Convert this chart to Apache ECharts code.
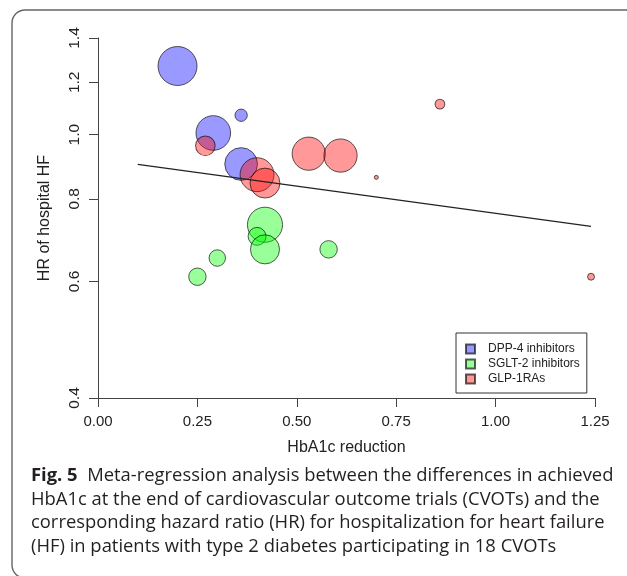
<!DOCTYPE html>
<html>
<head>
<meta charset="utf-8">
<script src="https://cdn.jsdelivr.net/npm/echarts@6/dist/echarts.min.js"></script>
<style>
  html, body { margin: 0; padding: 0; background: #fff; }
  #chart { width: 627px; height: 576px; }
</style>
</head>
<body>
<div id="chart"></div>
<script>
// drug classes
const categories = ["DPP-4 inhibitors", "SGLT-2 inhibitors", "GLP-1RAs"];

// HbA1c reduction, hazard ratio, study weight
const dppX = [0.20, 0.36, 0.29, 0.36];
const dppHR = [1.27, 1.07, 1.006, 0.903];
const dppW = [95, 9.5, 75, 67];

const sgltX = [0.42, 0.40, 0.42, 0.30, 0.25, 0.58];
const sgltHR = [0.731, 0.702, 0.671, 0.651, 0.610, 0.671];
const sgltW = [77, 20, 53, 17, 19, 19];

const glpX = [0.27, 0.40, 0.42, 0.53, 0.61, 0.70, 0.86, 1.24];
const glpHR = [0.962, 0.870, 0.845, 0.936, 0.930, 0.862, 1.112, 0.610];
const glpW = [24, 72, 56, 69, 69, 1, 6, 3];

// meta-regression line end points
const regX = [0.10, 1.24];
const regHR = [0.902, 0.727];

const xTicks = [0, 0.25, 0.5, 0.75, 1.0, 1.25];
const yTicks = [0.4, 0.6, 0.8, 1.0, 1.2, 1.4];

const caption = [
  "HbA1c at the end of cardiovascular outcome trials (CVOTs) and the",
  "corresponding hazard ratio (HR) for hospitalization for heart failure",
  "(HF) in patients with type 2 diabetes participating in 18 CVOTs",
];

const toPoints = (xs, ys, ws) => xs.map((x, i) => [x, ys[i], ws[i]]);

const chart = echarts.init(document.getElementById("chart"));

const axisColor = "#444";
const capFont = "18.4px 'Open Sans'";
const bubble = (name, data, color) => ({
  name: name,
  type: "scatter",
  data: data,
  symbolSize: (v) => 4 * Math.sqrt(v[2]),
  itemStyle: {
    color: color,
    borderColor: "rgba(0,0,0,0.8)",
    borderWidth: 1,
  },
  emphasis: { disabled: true },
});

const option = {
  animation: false,
  textStyle: { fontFamily: "Liberation Sans" },
  grid: { left: 98, right: 32, top: 38, bottom: 178 },
  xAxis: {
    type: "value",
    min: 0,
    max: 1.25,
    interval: 0.25,
    name: "HbA1c reduction",
    nameLocation: "middle",
    nameGap: 42,
    nameTextStyle: { fontSize: 16, color: "#222" },
    axisLine: { onZero: false, lineStyle: { color: axisColor } },
    axisTick: { length: 9, lineStyle: { color: axisColor } },
    axisLabel: {
      fontSize: 15,
      color: "#222",
      margin: 16,
      formatter: (v) => v.toFixed(2),
    },
    splitLine: { show: false },
  },
  yAxis: {
    type: "log",
    min: 0.4,
    max: 1.4,
    name: "HR of hospital HF",
    nameLocation: "middle",
    nameRotate: 90,
    nameGap: 45,
    nameTextStyle: { fontSize: 16, color: "#222" },
    axisLine: { show: true, lineStyle: { color: axisColor } },
    axisTick: {
      show: true,
      length: 9,
      customValues: yTicks,
      lineStyle: { color: axisColor },
    },
    axisLabel: {
      rotate: 90,
      fontSize: 15.5,
      color: "#222",
      margin: 15,
      customValues: yTicks,
      formatter: (v) => Number(v).toFixed(1),
    },
    splitLine: { show: false },
  },
  legend: {
    data: categories,
    orient: "vertical",
    left: 456,
    top: 333,
    padding: [10, 7, 8, 9],
    itemWidth: 9,
    itemHeight: 9,
    itemGap: 3,
    icon: "rect",
    borderColor: "#333",
    borderWidth: 1,
    textStyle: {
      fontSize: 12,
      lineHeight: 12,
      color: "#222",
      padding: [0, 0, 0, 8],
    },
  },
  graphic: [
    {
      type: "rect",
      shape: { x: 12, y: 10, width: 660, height: 568, r: 13 },
      style: { fill: "none", stroke: "#666", lineWidth: 1.4 },
      silent: true,
    },
    {
      type: "text",
      x: 31,
      y: 476,
      style: {
        text: "{b|Fig. 5}  Meta-regression analysis between the differences in achieved",
        font: capFont,
        fill: "#231f20",
        verticalAlign: "middle",
        rich: { b: { fontWeight: "bold", fontFamily: "Open Sans", fontSize: 18.4, fill: "#231f20" } },
      },
    },
  ].concat(
    caption.map((t, i) => ({
      type: "text",
      x: 31,
      y: 499.5 + i * 23.5,
      style: { text: t, font: capFont, fill: "#231f20", verticalAlign: "middle" },
    }))
  ),
  series: [
    bubble(categories[0], toPoints(dppX, dppHR, dppW), "rgba(0,0,255,0.5)"),
    bubble(categories[1], toPoints(sgltX, sgltHR, sgltW), "rgba(0,255,0,0.5)"),
    bubble(categories[2], toPoints(glpX, glpHR, glpW), "rgba(255,0,0,0.5)"),
    {
      name: "regression",
      type: "line",
      data: regX.map((x, i) => [x, regHR[i]]),
      symbol: "none",
      lineStyle: { color: "#222", width: 1.2 },
      silent: true,
      z: 3,
    },
  ],
};

chart.setOption(option);
</script>
</body>
</html>
